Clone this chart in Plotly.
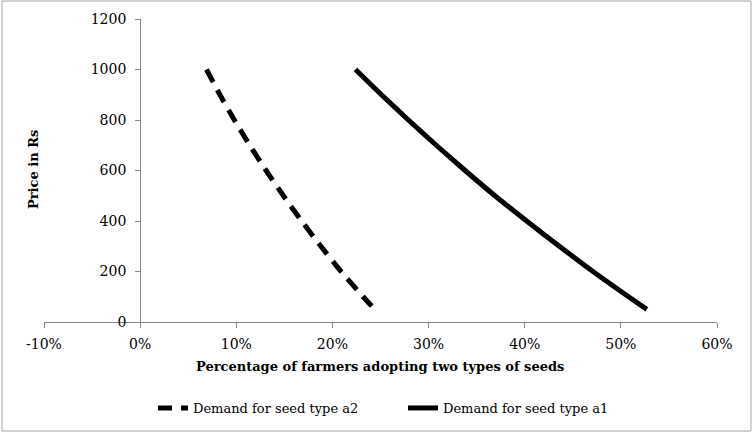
import plotly.graph_objects as go

price = [1000, 900, 800, 700, 600, 500, 400, 300, 200, 100, 50]
share_a2 = [0.069, 0.083, 0.098, 0.114, 0.131, 0.149, 0.168, 0.188, 0.209, 0.232, 0.244]
share_a1 = [0.224, 0.251, 0.279, 0.308, 0.338, 0.369, 0.402, 0.436, 0.471, 0.508, 0.527]

x_ticks = [-0.1, 0, 0.1, 0.2, 0.3, 0.4, 0.5, 0.6]
x_tick_labels = ["-10%", "0%", "10%", "20%", "30%", "40%", "50%", "60%"]
y_ticks = [0, 200, 400, 600, 800, 1000, 1200]

FONT = "DejaVu Serif"
AX = "#888888"

fig = go.Figure()
fig.add_trace(go.Scatter(x=share_a2, y=price, mode="lines", name="Demand for seed type a2",
                         line=dict(color="black", width=5, dash="14px,9px", shape="spline", smoothing=0.6)))
fig.add_trace(go.Scatter(x=share_a1, y=price, mode="lines", name="Demand for seed type a1",
                         line=dict(color="black", width=5, shape="spline", smoothing=0.6)))

W, H = 754, 435
ml, mr, mt, mb = 44, 37, 19, 113
pw, ph = W - ml - mr, H - mt - mb

def px(X):
    return (X - ml) / pw

def py(Y):
    return (H - mb - Y) / ph

fig.update_layout(
    width=W, height=H,
    margin=dict(l=ml, r=mr, t=mt, b=mb),
    paper_bgcolor="white", plot_bgcolor="white",
    font=dict(family=FONT, size=13, color="black"),
    showlegend=True,
    legend=dict(orientation="h", x=px(153), y=py(408), xanchor="left", yanchor="middle",
                font=dict(family=FONT, size=13), entrywidth=205, entrywidthmode="pixels",
                bgcolor="rgba(0,0,0,0)"),
    xaxis=dict(range=[-0.1, 0.6], tickvals=x_ticks, ticktext=x_tick_labels, showgrid=False,
               zeroline=False, showline=True, linecolor=AX, linewidth=1,
               ticks="outside", ticklen=5, tickcolor=AX, ticklabelstandoff=4,
               tickfont=dict(family=FONT, size=14)),
    yaxis=dict(range=[0, 1200], tickvals=y_ticks, showgrid=False, zeroline=False,
               showline=True, linecolor=AX, linewidth=1, anchor="free",
               position=(0 - (-0.1)) / 0.7,
               ticks="outside", ticklen=5, tickcolor=AX, ticklabelstandoff=6,
               tickfont=dict(family=FONT, size=14)),
    shapes=[dict(type="rect", xref="paper", yref="paper",
                 x0=px(2), x1=px(751), y0=py(431), y1=py(1),
                 line=dict(color="#a6a6a6", width=1), layer="below")],
    annotations=[
        dict(text="<b>Percentage of farmers adopting two types of seeds</b>",
             xref="paper", yref="paper", x=px(380), y=py(366), showarrow=False,
             xanchor="center", yanchor="middle", font=dict(family=FONT, size=13)),
        dict(text="<b>Price in Rs</b>", textangle=-90,
             xref="paper", yref="paper", x=px(33), y=py(170), showarrow=False,
             xanchor="center", yanchor="middle", font=dict(family=FONT, size=13)),
    ],
)

fig.write_html("out.html", config={"displayModeBar": False})
with open("out.html", "r", encoding="utf-8") as f:
    html = f.read()
html = html.replace("<head>", "<head><style>html,body{margin:0;padding:0;overflow:hidden;}</style>", 1)
with open("out.html", "w", encoding="utf-8") as f:
    f.write(html)
